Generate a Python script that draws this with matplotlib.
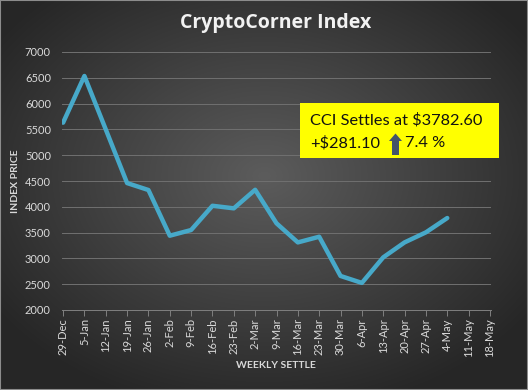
import numpy as np
import matplotlib
matplotlib.use("Agg")
import matplotlib.pyplot as plt
from matplotlib.patches import Rectangle, Polygon

plt.rcParams['font.family'] = ['Lato', 'DejaVu Sans']

# data
weeks = ['29-Dec', '5-Jan', '12-Jan', '19-Jan', '26-Jan', '2-Feb', '9-Feb', '16-Feb',
         '23-Feb', '2-Mar', '9-Mar', '16-Mar', '23-Mar', '30-Mar', '6-Apr', '13-Apr',
         '20-Apr', '27-Apr', '4-May', '11-May', '18-May']
index_price = [5630, 6535, 5500, 4460, 4325, 3440, 3550, 4020,
               3970, 4330, 3680, 3310, 3420, 2660, 2525, 3020,
               3310, 3505, 3782.6, np.nan, np.nan]
y_ticks = [2000, 2500, 3000, 3500, 4000, 4500, 5000, 5500, 6000, 6500, 7000]

W, H = 528, 390
fig = plt.figure(figsize=(W / 100, H / 100), dpi=100)


def px(x, y):
    return (x / W, 1 - y / H)


# radial gradient background
bg = fig.add_axes([0, 0, 1, 1])
gy, gx = np.mgrid[0:H, 0:W]
r = np.sqrt(((gx - W * 0.5) / (W * 0.62)) ** 2 + ((gy - H * 0.45) / (H * 0.62)) ** 2)
r = np.clip(r, 0, 1)
c_in = np.array([0x5c, 0x5c, 0x5c]) / 255
c_out = np.array([0x26, 0x26, 0x26]) / 255
img = c_in[None, None, :] * (1 - r[..., None]) + c_out[None, None, :] * r[..., None]
bg.imshow(img, extent=[0, 1, 0, 1], aspect='auto', interpolation='bilinear')
bg.axis('off')
fig.patches.append(Rectangle((0, 0), 1, 1, transform=fig.transFigure, fill=False,
                             edgecolor='#8c8c8c', linewidth=1.5))

ax = fig.add_axes([62 / W, 1 - 310 / H, (491 - 62) / W, (310 - 52) / H])
ax.patch.set_alpha(0)
x = np.arange(len(weeks))
ax.plot(x, index_price, color='#47a9c9', linewidth=3.2, solid_capstyle='round',
        solid_joinstyle='round', zorder=3)
ax.set_xlim(-0.05, len(weeks) - 0.95)
ax.set_ylim(2000, 7000)
ax.set_yticks(y_ticks)
ax.set_xticks(x)
ax.set_xticklabels(weeks, rotation=90)
ax.grid(axis='y', color='#707070', linewidth=0.7)
ax.set_axisbelow(True)
for s in ['top', 'right', 'left']:
    ax.spines[s].set_visible(False)
ax.spines['bottom'].set_color('#808080')
ax.spines['bottom'].set_linewidth(0.7)
ax.tick_params(axis='y', length=0, colors='#d9d9d9', labelsize=8, pad=8)
ax.tick_params(axis='x', length=4, width=0.7, color='#808080', labelcolor='#d9d9d9',
               labelsize=8, pad=2)

fig.text(*px(276, 23), 'CryptoCorner Index', color='#f2f2f2', fontsize=14,
         fontweight='bold', ha='center', va='center', family=['Open Sans', 'DejaVu Sans'])
fig.text(*px(16, 181), 'INDEX PRICE', color='#d9d9d9', fontsize=7.5, fontweight='bold',
         rotation=90, ha='center', va='center')
fig.text(*px(276, 366), 'WEEKLY SETTLE', color='#d9d9d9', fontsize=7.5,
         fontweight='bold', ha='center', va='center')

# callout box
x0, y0 = px(300, 158)
x1, y1 = px(499, 103)
fig.patches.append(Rectangle((x0, y0), x1 - x0, y1 - y0, transform=fig.transFigure,
                             facecolor='#ffff00', edgecolor='none', zorder=5))
fig.text(*px(310, 120), 'CCI Settles at $3782.60', color='#111111', fontsize=11.8,
         ha='left', va='center', zorder=6)
fig.text(*px(310, 143), '+$281.10', color='#111111', fontsize=11.8,
         ha='left', va='center', zorder=6)
fig.text(*px(405, 143), '7.4 %', color='#111111', fontsize=11.8,
         ha='left', va='center', zorder=6)
arrow = [px(392, 141), px(389, 141), px(395.5, 133.5), px(402, 141), px(399, 141),
         px(399, 155), px(392, 155)]
fig.patches.append(Polygon(arrow, closed=True, transform=fig.transFigure,
                           facecolor='#44546a', edgecolor='none', zorder=6))

fig.savefig('out.png', dpi=100)
